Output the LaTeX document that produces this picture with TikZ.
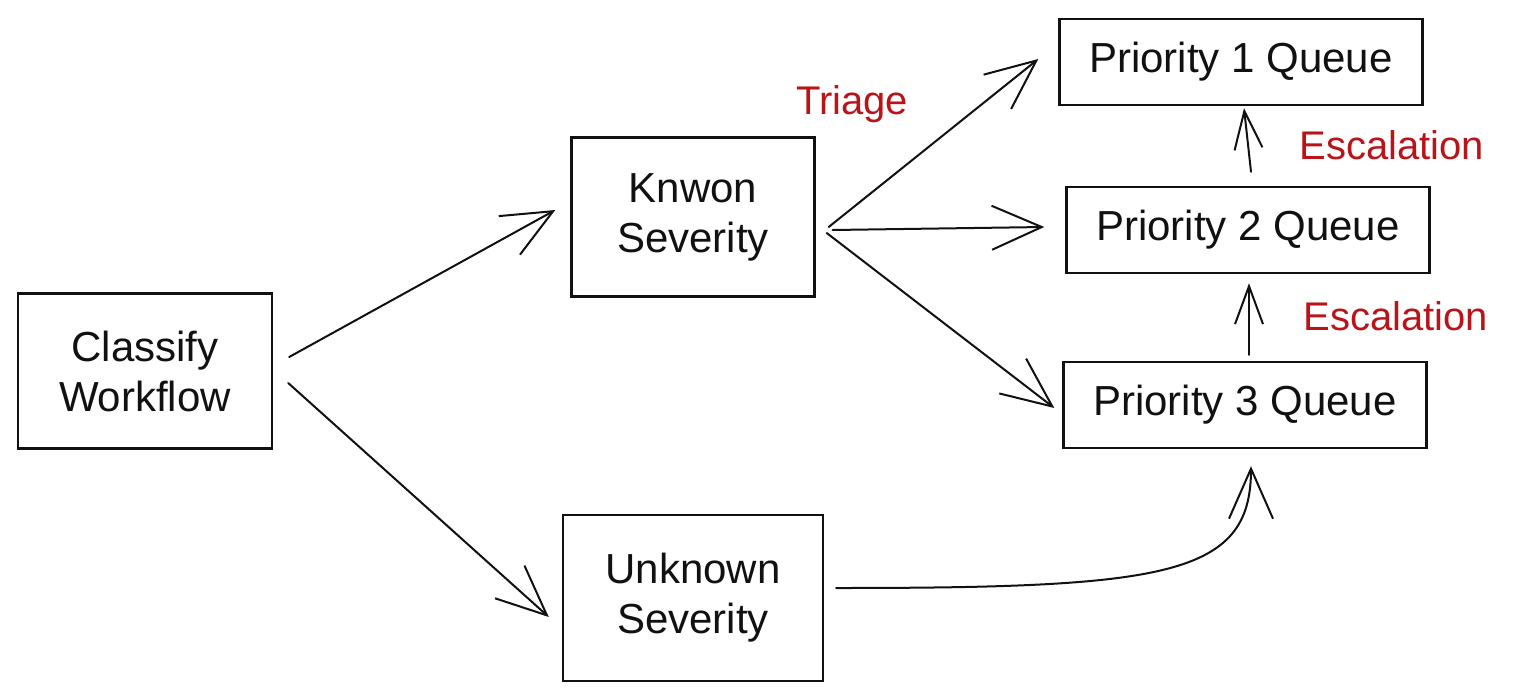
\documentclass[tikz,border=0pt]{standalone}
\usepackage{fontspec}
\setmainfont{Liberation Sans}
\usetikzlibrary{arrows.meta}
\definecolor{exInk}{HTML}{111111}
\definecolor{exRed}{HTML}{B8141A}

\begin{document}
\begin{tikzpicture}[
    x=1pt, y=-1pt,
    font=\fontsize{42}{50}\selectfont,
    box/.style={draw=exInk, line width=2.4pt, align=center, inner sep=0pt,
                text=exInk},
    queuebox/.style={box, minimum width=363pt, minimum height=86pt},
    arr/.style={-{Straight Barb[length=50pt,width=44pt]}, line width=2pt,
                exInk, line cap=round},
    escarr/.style={arr, -{Straight Barb[length=38pt,width=28pt]}},
    note/.style={exRed, font=\fontsize{40}{44}\selectfont}
]
\useasboundingbox (0,0) rectangle (1525,699);

% -- source
\node[box, minimum width=254pt, minimum height=155pt] (classify) at (145,371)
  {Classify\\ Workflow};

% -- severity split
\node[box, minimum width=243pt, minimum height=159pt] (known) at (693,217)
  {Knwon\\ Severity};
\node[box, minimum width=260pt, minimum height=166pt] (unknown) at (693,598)
  {Unknown\\ Severity};

% -- queues
\node[queuebox] (p1) at (1241,62) {Priority 1 Queue};
\node[queuebox] (p2) at (1248,230) {Priority 2 Queue};
\node[queuebox] (p3) at (1245,405) {Priority 3 Queue};

% -- labels
\node[note] (triage) at (852,104) {Triage};
\node[note, anchor=west] (esc1) at (1296,145) {Escalation};
\node[note, anchor=west] (esc2) at (1300,316) {Escalation};

% -- arrows
\draw[arr] ([xshift=16pt,yshift=14pt]classify.east) -- ([xshift=-15pt,yshift=7pt]known.west);
\draw[arr] ([xshift=15pt,yshift=-12pt]classify.east) -- ([xshift=-13pt,yshift=-19pt]unknown.west);
\draw[arr] ([xshift=13pt,yshift=-10pt]known.east) -- ([xshift=-20pt,yshift=3pt]p1.west);
\draw[arr] ([xshift=17pt,yshift=-13pt]known.east) -- ([xshift=-21pt,yshift=3pt]p2.west);
\draw[arr] ([xshift=11pt,yshift=-16pt]known.east) -- ([xshift=-8pt,yshift=-3pt]p3.west);
\draw[escarr] ([xshift=3pt,yshift=14pt]p2.north) -- ([xshift=3pt,yshift=-2pt]p1.south);
\draw[escarr] ([xshift=4pt,yshift=6pt]p3.north) -- ([xshift=1pt,yshift=-9pt]p2.south);
\draw[arr] ([xshift=12pt,yshift=10pt]unknown.east)
  .. controls +(330,0) and +(0,110) .. ([xshift=6pt,yshift=-17pt]p3.south);

\end{tikzpicture}
\end{document}
